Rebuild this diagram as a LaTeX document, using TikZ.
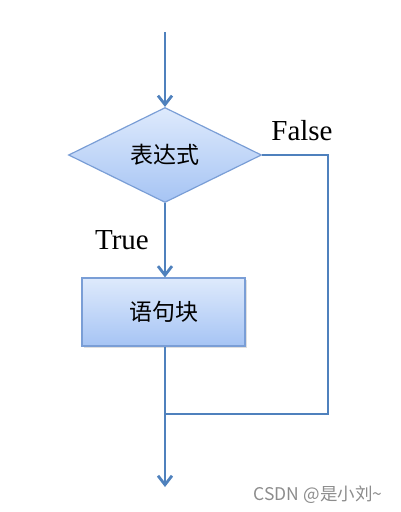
\documentclass[tikz,border=0pt]{standalone}
\usepackage{fontspec}
\setmainfont{Liberation Serif}
\newfontfamily\cjk{Noto Sans CJK SC}
\usepackage{tikz}
\usetikzlibrary{arrows.meta,shapes.geometric,shadows}

\definecolor{flowline}{RGB}{79,129,189}
\definecolor{boxedge}{RGB}{122,158,214}
\definecolor{filltop}{RGB}{222,234,252}
\definecolor{fillbot}{RGB}{166,196,244}

\begin{document}
\begin{tikzpicture}[x=1pt,y=-1pt,>={Straight Barb[length=9pt,width=14pt]},
  flow/.style={draw=flowline,line width=2.8pt},
  cond node/.style={diamond,aspect=2,draw=boxedge,line width=1.2pt,
        top color=filltop,bottom color=fillbot,inner sep=0pt,
        minimum width=193pt,minimum height=95pt,font=\cjk\fontsize{23}{27}\selectfont},
  block node/.style={rectangle,draw=boxedge,line width=1.2pt,
        top color=filltop,bottom color=fillbot,
        minimum width=163pt,minimum height=68pt,font=\cjk\fontsize{23}{27}\selectfont,
        drop shadow={opacity=0.25,shadow xshift=1.5pt,shadow yshift=-1.5pt}},
  branch label/.style={font=\fontsize{29}{34}\selectfont}]
  \useasboundingbox (0,0) rectangle (400,512);

  \coordinate (start) at (165,32);
  \node[cond node]  (cond) at (165,155) {表达式};
  \node[block node] (body) at (163.5,312) {语句块};
  \coordinate (turn) at (328,414);
  \coordinate (join) at (165,414);
  \coordinate (stop) at (165,487);

  \node[branch label] (false) at (302,131) {False};
  \node[branch label] (true)  at (122,240) {True};

  \draw[flow,->] (start) -- (cond.north);
  \draw[flow,->] (cond.south) -- (cond.south |- body.north);
  \draw[flow] (cond.east) -| (turn) -- (join);
  \draw[flow,->] (body.south -| join) -- (stop);

  \node[font=\cjk\fontsize{17.5}{20}\selectfont,text=black!45] (mark) at (318,495) {CSDN @是小刘\textasciitilde};
\end{tikzpicture}
\end{document}
